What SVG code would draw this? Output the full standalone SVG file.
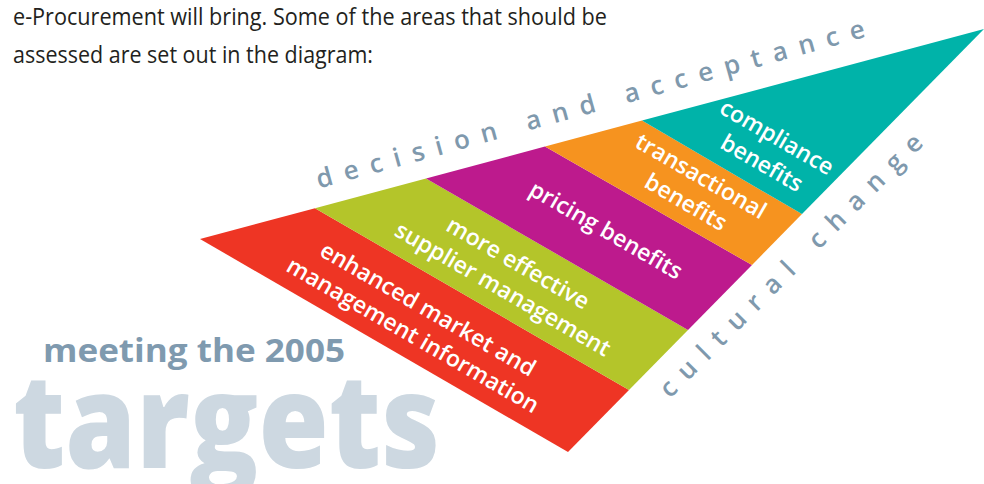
<svg xmlns="http://www.w3.org/2000/svg" width="984" height="484" viewBox="0 0 984 484">
<style>
.hdr{font-family:"Open Sans","Liberation Sans",sans-serif;font-size:24px;fill:#231f20;font-weight:400}
.edge{font-family:"Open Sans","Liberation Sans",sans-serif;font-size:26px;font-weight:600;fill:#7f99ad}
.lbl{font-family:"Open Sans","Liberation Sans",sans-serif;font-size:23px;font-weight:600;fill:#ffffff;text-anchor:middle}
.meet{font-family:"Open Sans","Liberation Sans",sans-serif;font-size:33px;font-weight:700;fill:#7f9aaf}
.tgt{font-family:"Open Sans","Liberation Sans",sans-serif;font-size:132px;font-weight:800;fill:#cdd8e1}
</style>
<rect width="984" height="484" fill="#ffffff"/>
<g id="header">
<text class="hdr" x="13" y="25" textLength="594" lengthAdjust="spacingAndGlyphs">e-Procurement will bring. Some of the areas that should be</text>
<text class="hdr" x="13" y="63" textLength="360" lengthAdjust="spacingAndGlyphs">assessed are set out in the diagram:</text>
</g>
<g id="title">
<text class="tgt" x="13" y="468" textLength="427" lengthAdjust="spacingAndGlyphs">targets</text>
<text class="meet" x="43" y="362" textLength="302" lengthAdjust="spacingAndGlyphs">meeting the 2005</text>
</g>
<g id="band-red">
<polygon points="200,239 315,208.2 629,390 568,452" fill="#ee3524"/>
<g transform="translate(424,316) rotate(30)">
<text class="lbl" x="0" y="0">enhanced market and</text>
<text class="lbl" x="0" y="30">management information</text>
</g>
</g>
<g id="band-green">
<polygon points="315,208.2 426,178.5 688,330 629,390" fill="#b4c52a"/>
<g transform="translate(514,270) rotate(30)">
<text class="lbl" x="0" y="0">more effective</text>
<text class="lbl" x="0" y="30">supplier management</text>
</g>
</g>
<g id="band-magenta">
<polygon points="426,178.5 545,146.6 752,265 688,330" fill="#bd1a8d"/>
<g transform="translate(602,237) rotate(30)">
<text class="lbl" x="0" y="0">pricing benefits</text>
</g>
</g>
<g id="band-orange">
<polygon points="545,146.6 642,120.6 802,214.1 752,265" fill="#f6931f"/>
<g transform="translate(697,183) rotate(30)">
<text class="lbl" x="0" y="0">transactional</text>
<text class="lbl" x="0" y="30">benefits</text>
</g>
</g>
<g id="band-teal">
<polygon points="642,120.6 984,29 802,214.1" fill="#00b3a9"/>
<g transform="translate(773,144) rotate(30)">
<text class="lbl" x="0" y="0">compliance</text>
<text class="lbl" x="0" y="30">benefits</text>
</g>
</g>
<g id="edge-top">
<text class="edge" transform="translate(319,188.6) rotate(-15.5)" x="0" y="0" textLength="568" lengthAdjust="spacing">decision and acceptance</text>
</g>
<g id="edge-right">
<text class="edge" transform="translate(670,399) rotate(-45)" x="0" y="0" textLength="360" lengthAdjust="spacing">cultural change</text>
</g>
<g id="connectors"/>
</svg>
